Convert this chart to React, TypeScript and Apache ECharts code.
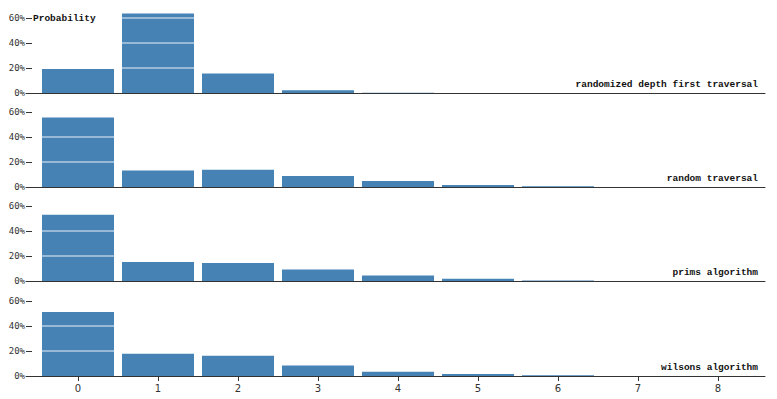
import React, { useEffect, useRef } from "react";
import * as echarts from "echarts";

const buckets = [0, 1, 2, 3, 4, 5, 6, 7, 8];
const panelNames = [
  "randomized depth first traversal",
  "random traversal",
  "prims algorithm",
  "wilsons algorithm",
];
const dfsValues = [0.192, 0.637, 0.157, 0.022, 0.002, 0, 0, 0, 0];
const randomValues = [0.557, 0.133, 0.139, 0.088, 0.048, 0.016, 0.006, 0.001, 0];
const primsValues = [0.53, 0.152, 0.144, 0.093, 0.045, 0.018, 0.004, 0.001, 0];
const wilsonsValues = [0.512, 0.179, 0.163, 0.085, 0.035, 0.016, 0.006, 0.001, 0];
const yTickStep = 0.2;
const yTickMax = 0.6;
const gridLines = [0.2, 0.4, 0.6];
const yLabel = "Probability";

const panels = [dfsValues, randomValues, primsValues, wilsonsValues];

export default function App() {
  const ref = useRef<HTMLDivElement>(null);
  useEffect(() => {
    if (!ref.current) return;
    const chart = echarts.init(ref.current, undefined, { renderer: "svg" });
    const baselines = [93, 187, 281, 376];
    const panelH = 75;
    const labelFont = 'bold 9.5px "Liberation Mono", monospace';

    const grids = baselines.map((b) => ({
      left: 26,
      right: 12,
      top: b - panelH,
      height: panelH,
      containLabel: false,
    }));

    const xAxes = panels.map((_, i) => {
      const last = i === panels.length - 1;
      return {
        type: "value",
        gridIndex: i,
        min: -0.65,
        max: 8.5875,
        z: 4,
        axisLine: { show: true, onZero: false, lineStyle: { color: "#333", width: 1 } },
        axisTick: {
          show: last,
          customValues: buckets,
          length: 5,
          lineStyle: { color: "#333" },
        },
        axisLabel: {
          show: last,
          customValues: buckets,
          fontSize: 10,
          fontFamily: '"DejaVu Sans", sans-serif',
          color: "#333",
          margin: 7,
        },
        splitLine: { show: false },
      };
    });

    const yAxes = panels.map((_, i) => ({
      type: "value",
      gridIndex: i,
      min: 0,
      max: yTickMax,
      interval: yTickStep,
      offset: -6,
      z: 5,
      axisLine: { show: false, onZero: false },
      axisTick: {
        show: true,
        length: 6,
        lineStyle: { color: "#333" },
      },
      axisLabel: {
        formatter: (v: number) => Math.round(v * 100) + "%",
        fontSize: 9,
        fontFamily: '"DejaVu Sans Mono", monospace',
        color: "#333",
        margin: 7,
      },
      splitLine: { show: false },
    }));

    const barSeries = panels.map((vals, i) => ({
      type: "bar",
      xAxisIndex: i,
      yAxisIndex: i,
      barWidth: 72,
      clip: false,
      z: 2,
      data: buckets.map((b, j) => [b, vals[j]]),
      itemStyle: { color: "#4682b4" },
      emphasis: { disabled: true },
      silent: true,
    }));

    const lineSeries = panels.map((_, i) => ({
      type: "custom",
      xAxisIndex: i,
      yAxisIndex: i,
      z: 3,
      silent: true,
      clip: false,
      data: gridLines.map((v) => [0, v]),
      encode: { x: 0, y: 1 },
      renderItem: (params: any, api: any) => {
        const v = api.value(1);
        const p1 = api.coord([buckets[0] - 0.5, v]);
        const p2 = api.coord([buckets[buckets.length - 1] + 0.5, v]);
        return {
          type: "line",
          shape: { x1: p1[0], y1: p1[1], x2: p2[0], y2: p2[1] },
          style: { stroke: "#ffffff", lineWidth: 1, opacity: 0.9 },
        };
      },
    }));

    const graphic: any[] = [
      {
        type: "text",
        x: 33,
        y: 18,
        z: 100,
        style: {
          text: yLabel,
          font: labelFont,
          fill: "#111",
          textAlign: "left",
          textVerticalAlign: "middle",
        },
      },
      ...panelNames.map((name, i) => ({
        type: "text",
        x: 758,
        y: baselines[i] - 4,
        z: 100,
        style: {
          text: name,
          font: labelFont,
          fill: "#111",
          textAlign: "right",
          textVerticalAlign: "bottom",
        },
      })),
    ];

    chart.setOption({
      animation: false,
      grid: grids,
      xAxis: xAxes,
      yAxis: yAxes,
      series: [...barSeries, ...lineSeries],
      graphic,
    } as any);
    return () => chart.dispose();
  }, []);
  return (
    <div
      ref={ref}
      style={{ position: "absolute", left: 0, top: 0, width: 777, height: 399 }}
    />
  );
}
